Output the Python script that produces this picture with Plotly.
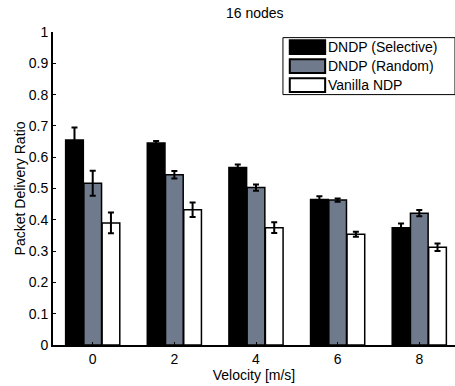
import plotly.graph_objects as go

velocities = [0, 2, 4, 6, 8]
series_names = ["DNDP (Selective)", "DNDP (Random)", "Vanilla NDP"]
selective = [0.655, 0.645, 0.567, 0.465, 0.375]
selective_err = [0.04, 0.007, 0.01, 0.01, 0.013]
random_ = [0.517, 0.544, 0.503, 0.463, 0.421]
random_err = [0.04, 0.012, 0.01, 0.005, 0.01]
vanilla = [0.39, 0.432, 0.375, 0.354, 0.312]
vanilla_err = [0.033, 0.023, 0.017, 0.008, 0.012]
y_ticks = [0, 0.1, 0.2, 0.3, 0.4, 0.5, 0.6, 0.7, 0.8, 0.9, 1]
y_tick_labels = ["0", "0.1", "0.2", "0.3", "0.4", "0.5", "0.6", "0.7", "0.8", "0.9", "1"]

colors = ["#000000", "#6f7b8c", "#ffffff"]
values = [selective, random_, vanilla]
errors = [selective_err, random_err, vanilla_err]

FONT = "Liberation Sans, Arial, Helvetica, sans-serif"
FS = 14

fig = go.Figure()
for name, vals, errs, col in zip(series_names, values, errors, colors):
    fig.add_trace(go.Bar(
        x=velocities, y=vals, name=name,
        marker=dict(color=col, line=dict(color="black", width=1.5)),
        error_y=dict(type="data", array=errs, color="black", thickness=2, width=3),
        showlegend=False,
    ))

fig.update_layout(
    width=455, height=386,
    margin=dict(l=53, r=0, t=32, b=41),
    paper_bgcolor="white", plot_bgcolor="white",
    barmode="group", bargap=0.33, bargroupgap=0.03,
    font=dict(family=FONT, size=FS, color="black"),
    title=dict(text="16 nodes", x=0.56, xanchor="center", y=0.966, yanchor="middle",
               font=dict(size=FS, family=FONT)),
    xaxis=dict(range=[-0.973, 8.875], tickvals=velocities, ticktext=[str(v) for v in velocities],
               showline=True, linecolor="black", linewidth=2, ticks="inside", ticklen=3,
               tickcolor="black", showgrid=False, zeroline=False, automargin=False,
               title=dict(text="Velocity [m/s]", standoff=2, font=dict(size=FS))),
    yaxis=dict(range=[0, 1], tickvals=y_ticks, ticktext=y_tick_labels,
               showline=True, linecolor="black", linewidth=2, ticks="inside", ticklen=3,
               tickcolor="black", showgrid=False, zeroline=False, automargin=False,
               title=dict(text="Packet Delivery Ratio", standoff=0, font=dict(size=FS))),
)

# custom legend box (matching reference style)
lx0, lx1, ly0, ly1 = 0.572, 1.0, 0.982, 0.80
fig.add_shape(type="rect", xref="paper", yref="paper", x0=lx0, x1=lx1, y0=ly1, y1=ly0,
              line=dict(color="black", width=1), fillcolor="white", layer="above")
row_h = (ly0 - ly1) / 3
for i, (name, col) in enumerate(zip(series_names, colors)):
    yc = ly0 - row_h * (i + 0.5)
    fig.add_shape(type="rect", xref="paper", yref="paper",
                  x0=lx0 + 0.017, x1=lx0 + 0.105, y0=yc - 0.022, y1=yc + 0.022,
                  line=dict(color="black", width=2), fillcolor=col, layer="above")
    fig.add_annotation(xref="paper", yref="paper", x=lx0 + 0.107, y=yc, text=name,
                       showarrow=False, xanchor="left", yanchor="middle",
                       font=dict(size=FS, family=FONT, color="black"))

fig.write_html("out.html", config={"displayModeBar": False},
               post_script="document.body.style.margin='0';document.body.style.overflow='hidden';")
